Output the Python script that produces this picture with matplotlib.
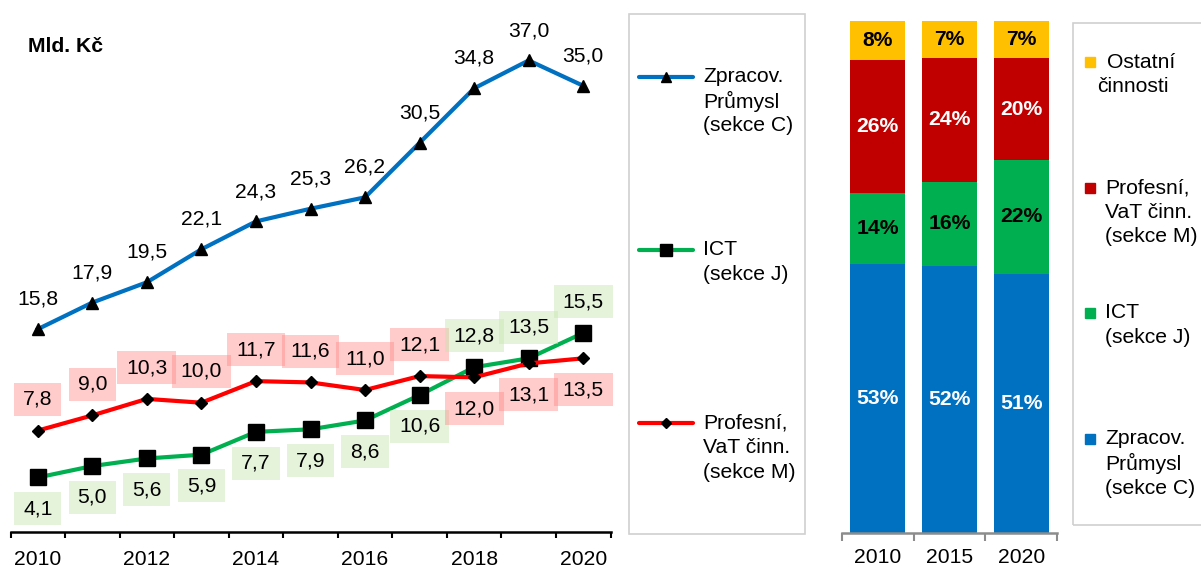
import matplotlib
matplotlib.use("Agg")
import matplotlib.pyplot as plt
from matplotlib.lines import Line2D
from matplotlib.patches import Rectangle
from matplotlib.path import Path

plt.rcParams['font.family'] = ['Liberation Sans', 'DejaVu Sans']

# ---------------- data ----------------
years = [2010, 2011, 2012, 2013, 2014, 2015, 2016, 2017, 2018, 2019, 2020]
tick_years = ["2010", "2012", "2014", "2016", "2018", "2020"]
zprac = [15.8, 17.9, 19.5, 22.1, 24.3, 25.3, 26.2, 30.5, 34.8, 37.0, 35.0]
ict = [4.1, 5.0, 5.6, 5.9, 7.7, 7.9, 8.6, 10.6, 12.8, 13.5, 15.5]
prof = [7.8, 9.0, 10.3, 10.0, 11.7, 11.6, 11.0, 12.1, 12.0, 13.1, 13.5]

bar_years = ["2010", "2015", "2020"]
share_zprac = [52.6, 52.2, 50.6]
share_ict = [13.8, 16.4, 22.3]
share_prof = [26.0, 24.2, 19.8]
share_ost = [7.6, 7.2, 7.3]

C_BLUE = "#0070C0"
C_GREEN = "#00B050"
C_RED_LINE = "#FF0000"
C_RED_BAR = "#C00000"
C_YELLOW = "#FFC000"

W, H = 1201, 567
FS = 15.2

fig = plt.figure(figsize=(W / 100, H / 100), dpi=100)


def fx(px):
    return px / W


def fy(py):
    return 1 - py / H


def label_box(x0, y0, width, height, mutation_scale):
    padx = 0.42 * mutation_scale
    pady = 0.33 * mutation_scale
    xa, xb = x0 - padx, x0 + width + padx
    ya, yb = y0 - pady, y0 + height + pady
    return Path([(xa, ya), (xb, ya), (xb, yb), (xa, yb), (xa, ya)], closed=True)


# ---------------- line chart ----------------
axL = fig.add_axes([fx(10.5), fy(532), fx(610.5) - fx(10.5), fy(22.4) - fy(532)])
x = list(range(len(years)))
axL.plot(x, zprac, color=C_BLUE, lw=3, marker="^", ms=9, mfc="black", mec="black", zorder=3)
axL.plot(x, ict, color=C_GREEN, lw=3, marker="s", ms=11, mfc="black", mec="black", zorder=3)
axL.plot(x, prof, color=C_RED_LINE, lw=3, marker="D", ms=6.5, mfc="black", mec="black", zorder=3)
axL.set_xlim(-0.5, len(years) - 0.5)
axL.set_ylim(-0.2, 40)

off = 22.5
for i, v in enumerate(zprac):
    axL.annotate(f"{v:.1f}".replace(".", ","), (i, v), xytext=(0, off - 1), textcoords="offset points",
                 ha="center", va="center", fontsize=FS, zorder=5)

for i in range(len(years)):
    for vals, other, fc in ((prof, ict, (1.0, 0.55, 0.55, 0.45)), (ict, prof, (0.78, 0.9, 0.68, 0.45))):
        v = vals[i]
        dy = off if v >= other[i] else -off
        axL.annotate(f"{v:.1f}".replace(".", ","), (i, v), xytext=(0, dy), textcoords="offset points",
                     ha="center", va="center", fontsize=FS, zorder=5,
                     bbox=dict(boxstyle=label_box, fc=fc, ec="none"))

for s in ("left", "right", "top"):
    axL.spines[s].set_visible(False)
axL.spines["bottom"].set_linewidth(1.8)
axL.set_yticks([])
axL.set_xticks([i - 0.5 for i in range(len(years) + 1)], minor=False)
axL.set_xticklabels([])
axL.tick_params(axis="x", which="major", length=4, width=1.5, direction="out")
axL.set_xticks([years.index(int(t)) for t in tick_years], minor=True)
axL.set_xticklabels(tick_years, minor=True, fontsize=FS)
axL.tick_params(axis="x", which="minor", length=0, pad=13)

fig.text(fx(28), fy(47), "Mld. Kč", fontsize=FS, fontweight="bold", ha="left", va="center")

# legend 1
fig.add_artist(Rectangle((fx(629), fy(533.5)), fx(805) - fx(629), fy(13.7) - fy(533.5),
                         transform=fig.transFigure, fill=False, ec="#D0D0D0", lw=1.2))
leg1 = [
    (C_BLUE, "^", 6.5, 76.7, ["Zpracov.", "Průmysl", "(sekce C)"]),
    (C_GREEN, "s", 8.5, 249.5, ["ICT", "(sekce J)"]),
    (C_RED_LINE, "D", 5, 423, ["Profesní,", "VaT činn.", "(sekce M)"]),
]
for col, mk, ms, yy, lines in leg1:
    fig.add_artist(Line2D([fx(638.5), fx(693)], [fy(yy), fy(yy)], transform=fig.transFigure,
                          color=col, lw=3, solid_capstyle="round"))
    fig.add_artist(Line2D([fx(665.5)], [fy(yy)], transform=fig.transFigure, marker=mk, ms=ms,
                          mfc="black", mec="black", ls="none"))
    for k, t in enumerate(lines):
        fig.text(fx(703), fy(yy + 24.6 * k), t, fontsize=FS, ha="left", va="center")

# ---------------- bar chart ----------------
axB = fig.add_axes([fx(842), fy(533), fx(1057) - fx(842), fy(21) - fy(533)])
xb = list(range(len(bar_years)))
bw = 0.767
bottom = [0.0] * len(bar_years)
segments = [
    (share_zprac, C_BLUE, "white"),
    (share_ict, C_GREEN, "black"),
    (share_prof, C_RED_BAR, "white"),
    (share_ost, C_YELLOW, "black"),
]
for vals, col, tcol in segments:
    axB.bar(xb, vals, bw, bottom=bottom, color=col, edgecolor="none")
    for i, v in enumerate(vals):
        axB.text(i, bottom[i] + v / 2, f"{round(v):d}%", ha="center", va="center",
                 fontsize=FS, fontweight="bold", color=tcol)
    bottom = [b + v for b, v in zip(bottom, vals)]
axB.set_xlim(-0.5, len(bar_years) - 0.5)
axB.set_ylim(0, 100)
for s in ("left", "right", "top"):
    axB.spines[s].set_visible(False)
axB.spines["bottom"].set_color("#8C8C8C")
axB.spines["bottom"].set_linewidth(1.8)
axB.set_yticks([])
axB.set_xticks([i - 0.5 for i in range(len(bar_years) + 1)])
axB.set_xticklabels([])
axB.tick_params(axis="x", which="major", length=6, width=1.5, color="#8C8C8C")
axB.set_xticks(xb, minor=True)
axB.set_xticklabels(bar_years, minor=True, fontsize=FS)
axB.tick_params(axis="x", which="minor", length=0, pad=11)

# legend 2
fig.add_artist(Rectangle((fx(1073), fy(525)), fx(1215) - fx(1073), fy(22.5) - fy(525),
                         transform=fig.transFigure, fill=False, ec="#D0D0D0", lw=1.2))
leg2 = [
    (C_YELLOW, 62, [("Ostatní", 1106.5), ("činnosti", 1097.5)]),
    (C_RED_BAR, 188, [("Profesní,", 1105), ("VaT činn.", 1105), ("(sekce M)", 1105)]),
    (C_GREEN, 313, [("ICT", 1105), ("(sekce J)", 1105)]),
    (C_BLUE, 439, [("Zpracov.", 1105), ("Průmysl", 1105), ("(sekce C)", 1105)]),
]
for col, yy, lines in leg2:
    fig.add_artist(Line2D([fx(1090)], [fy(yy)], transform=fig.transFigure, marker="s", ms=7.5,
                          mfc=col, mec=col, ls="none"))
    for k, (t, xx) in enumerate(lines):
        fig.text(fx(xx), fy(yy + 24.5 * k), t, fontsize=FS, ha="left", va="center")

fig.savefig("out.png", dpi=100)
